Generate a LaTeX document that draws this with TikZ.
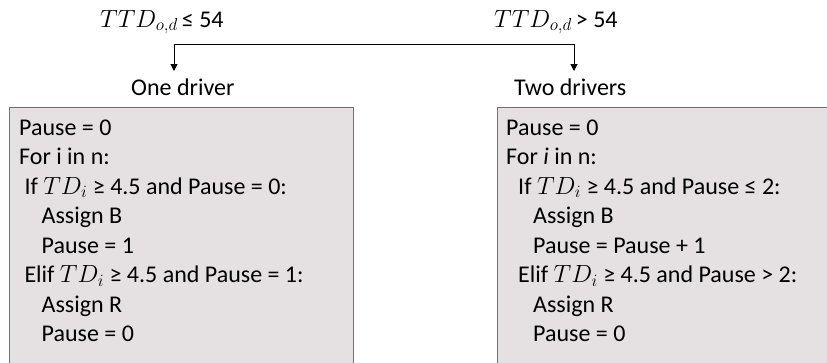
\documentclass[tikz,border=0pt]{standalone}
\usepackage{fontspec}
\setmainfont{Carlito}
\usetikzlibrary{arrows.meta}
\definecolor{boxfill}{HTML}{E5E1E3}
\definecolor{boxline}{HTML}{707070}
\tikzset{
  lbl/.style={anchor=base west, inner sep=0pt, font=\fontsize{24}{29.4}\selectfont},
  codebox/.style={draw=boxline, line width=1.3pt, fill=boxfill, anchor=north west, inner sep=0pt},
  conn/.style={line width=1pt, black},
  arr/.style={conn, -{Triangle[length=7pt,width=7pt]}}
}
\begin{document}
\begin{tikzpicture}[x=1pt,y=-1pt]
\useasboundingbox (0,0) rectangle (827,362);
\clip (0,0) rectangle (827,362);
% labels
\node[lbl] (condL) at (100,27) {$TTD_{o,d}$\,≤ 54};
\node[lbl] (condR) at (494,27) {$TTD_{o,d}$\,> 54};
\node[lbl] (one) at (131,95) {One driver};
\node[lbl] (two) at (514,95) {Two drivers};
% connectors
\coordinate (jl) at (174,44);
\coordinate (jr) at (574,44);
\coordinate (tl) at (174,71);
\coordinate (tr) at (574,71);
\draw[conn] (jl) -- (jr);
\draw[arr] (jl) -- (tl);
\draw[arr] (jr) -- (tr);
% boxes
\node[codebox, minimum width=344pt, minimum height=280pt] (boxL) at (9,107) {};
\node[codebox, minimum width=350pt, minimum height=280pt] (boxR) at (496.5,107) {};
% code left
\node[lbl] (l1) at (19,135) {Pause = 0};
\node[lbl] (l2) at (19,164.5) {For i in n:};
\node[lbl] (l3) at (24.3,194) {If $TD_i$ ≥ 4.5 and Pause = 0:};
\node[lbl] (l4) at (41.5,223.5) {Assign B};
\node[lbl] (l5) at (41.5,253) {Pause = 1};
\node[lbl] (l6) at (24.3,282.5) {Elif $TD_i$ ≥ 4.5 and Pause = 1:};
\node[lbl] (l7) at (41.5,312) {Assign R};
\node[lbl] (l8) at (41.5,341.5) {Pause = 0};
% code right
\node[lbl] (r1) at (506,135) {Pause = 0};
\node[lbl] (r2) at (506,164.5) {For \textit{i} in n:};
\node[lbl] (r3) at (518,194) {If $TD_i$ ≥ 4.5 and Pause ≤ 2:};
\node[lbl] (r4) at (533,223.5) {Assign B};
\node[lbl] (r5) at (533,253) {Pause = Pause + 1};
\node[lbl] (r6) at (518,282.5) {Elif $TD_i$ ≥ 4.5 and Pause > 2:};
\node[lbl] (r7) at (533,312) {Assign R};
\node[lbl] (r8) at (533,341.5) {Pause = 0};
\end{tikzpicture}
\end{document}
